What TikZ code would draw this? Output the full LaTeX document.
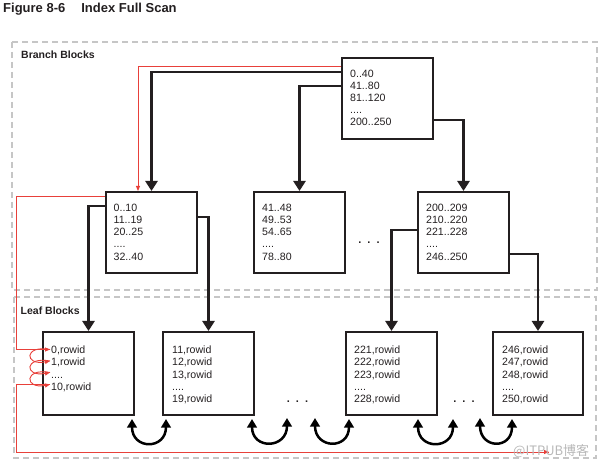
\documentclass[tikz,border=0pt]{standalone}
\usepackage{fontspec}
\setmainfont{Liberation Sans}
\newfontfamily\cjk{Noto Sans CJK SC}
\usetikzlibrary{arrows.meta,calc}

\definecolor{ink}{HTML}{231F20}
\definecolor{grp}{HTML}{C6C6C6}
\definecolor{scan}{HTML}{E8403A}

\begin{document}
\begin{tikzpicture}[x=1pt,y=-1pt,
 blk/.style={draw=ink,line width=2pt,minimum width=91pt,minimum height=81pt,inner sep=0pt},
 leafblk/.style={blk,minimum height=83pt},
 grpbox/.style={draw=grp,line width=2.5pt,dash pattern=on 6pt off 4pt},
 txt/.style={anchor=north west,inner sep=0pt,align=left,text=ink,font=\fontsize{10.6}{12.1}\selectfont},
 lbl/.style={anchor=base west,inner sep=0pt,font=\bfseries\fontsize{10.5}{12}\selectfont,text=ink},
 arr/.style={draw=ink,line width=2.5pt,-{Triangle[width=12pt,length=10pt]}},
 redln/.style={draw=scan,line width=0.9pt},
 redarr/.style={redln,-{Triangle[width=4pt,length=5pt]}},
 swaparr/.style={draw=black,line width=2.5pt,{Triangle[width=9.5pt,length=8.5pt]}-{Triangle[width=9.5pt,length=8.5pt]}},
 dotsty/.style={inner sep=0pt,text=ink,font=\bfseries\fontsize{11}{12}\selectfont},
]
\useasboundingbox (0,0) rectangle (603,465);

% title
\node[anchor=base west,inner sep=0pt,font=\bfseries\fontsize{13}{15}\selectfont,text=ink] (title) at (3,12.5) {Figure 8-6\hspace{16pt}Index Full Scan};

% group boxes
\draw[grpbox] (12,42) rectangle (597,290);
\draw[grpbox] (14,297) rectangle (596,458);
\node[lbl] (brlbl) at (21,59) {Branch Blocks};
\node[lbl] (lflbl) at (20.5,314.3) {Leaf Blocks};

% branch blocks
\node[blk] (root) at (387.5,98.5) {};
\node[blk] (b1) at (151.5,232.5) {};
\node[blk] (b2) at (299.5,232.5) {};
\node[blk] (b3) at (463.5,232.5) {};
\node[txt] (troot) at (350,70) {0..40\\41..80\\81..120\\....\\200..250};
\node[txt] (tb1) at (113.5,204) {0..10\\11..19\\20..25\\....\\32..40};
\node[txt] (tb2) at (262,204) {41..48\\49..53\\54..65\\....\\78..80};
\node[txt] (tb3) at (426,204) {200..209\\210..220\\221..228\\....\\246..250};
\node[dotsty] (bdots) at (369,243) {.\hspace{6pt}.\hspace{6pt}.};

% leaf blocks
\node[leafblk] (l1) at (88.5,373.5) {};
\node[leafblk] (l2) at (208.5,373.5) {};
\node[leafblk] (l3) at (391.5,373.5) {};
\node[leafblk,minimum width=90pt] (l4) at (538,373.5) {};
\node[txt] (tl1) at (51,346) {0,rowid\\1,rowid\\....\\10,rowid};
\node[txt] (tl2) at (172,346) {11,rowid\\12,rowid\\13,rowid\\....\\19,rowid};
\node[txt] (tl3) at (354,346) {221,rowid\\222,rowid\\223,rowid\\....\\228,rowid};
\node[txt] (tl4) at (502,346) {246,rowid\\247,rowid\\248,rowid\\....\\250,rowid};
\node[dotsty] (ldots1) at (297.5,402) {.\hspace{6pt}.\hspace{6pt}.};
\node[dotsty] (ldots2) at (464,402) {.\hspace{6pt}.\hspace{6pt}.};

% tree connectors
\draw[arr] ($(root.north west)+(0,15)$) -| (b1.north);
\draw[arr] ($(root.north west)+(0,29)$) -| (b2.north);
\draw[arr] ($(root.north east)+(0,63)$) -| (b3.north);
\draw[arr] ($(b1.north west)+(0,15)$) -| (l1.north);
\draw[arr] ($(b1.north east)+(0,26)$) -| (l2.north);
\draw[arr] ($(b3.north west)+(0,39)$) -| (l3.north);
\draw[arr] ($(b3.north east)+(0,63)$) -| (l4.north);

% red scan path
\coordinate (rx) at (16,0);
\coordinate (c1) at (50,349.5);
\coordinate (c2) at (50,361);
\coordinate (c3) at (50,372.5);
\coordinate (c4) at (50,384.5);
\coordinate (scanend) at (549,452);
\draw[redarr] ($(root.north west)+(0,9)$) -| ($(b1.north)+(-13.5,0)$);
\draw[redarr] ($(b1.north west)+(0,5)$) -| (rx |- c1) -- (c1);
\foreach \a/\b in {c1/c2,c2/c3,c3/c4}{
  \draw[redarr] (\a) .. controls +(-26,-5) and +(-26,5) .. (\b);
}
\draw[redln] (c4) -- (rx |- c4) |- (scanend);
\draw[redarr] ($(scanend)+(-3,0)$) -- (scanend);

% leaf swaps
\coordinate (d1) at (287,418);
\coordinate (d2) at (315,418);
\coordinate (d3) at (480,418);
\draw[swaparr] ($(l1.south east)+(-3,3)$) .. controls +(0,31) and +(0,31) .. ($(l2.south west)+(4,3)$);
\draw[swaparr] ($(l2.south east)+(-3,3)$) .. controls +(0,31) and +(0,31) .. (d1);
\draw[swaparr] (d2) .. controls +(0,31) and +(0,31) .. ($(l3.south west)+(4,3)$);
\draw[swaparr] ($(l3.south east)+(-20,3)$) .. controls +(0,31) and +(0,31) .. ($(l3.south east)+(15,3)$);
\draw[swaparr] (d3) .. controls +(0,31) and +(0,31) .. ($(l4.south west)+(20,3)$);

% watermark
\node[anchor=west,inner sep=0pt,text=black!28,font=\cjk\fontsize{13}{15}\selectfont] (wm) at (513,451) {@ITPUB博客};
\end{tikzpicture}
\end{document}
